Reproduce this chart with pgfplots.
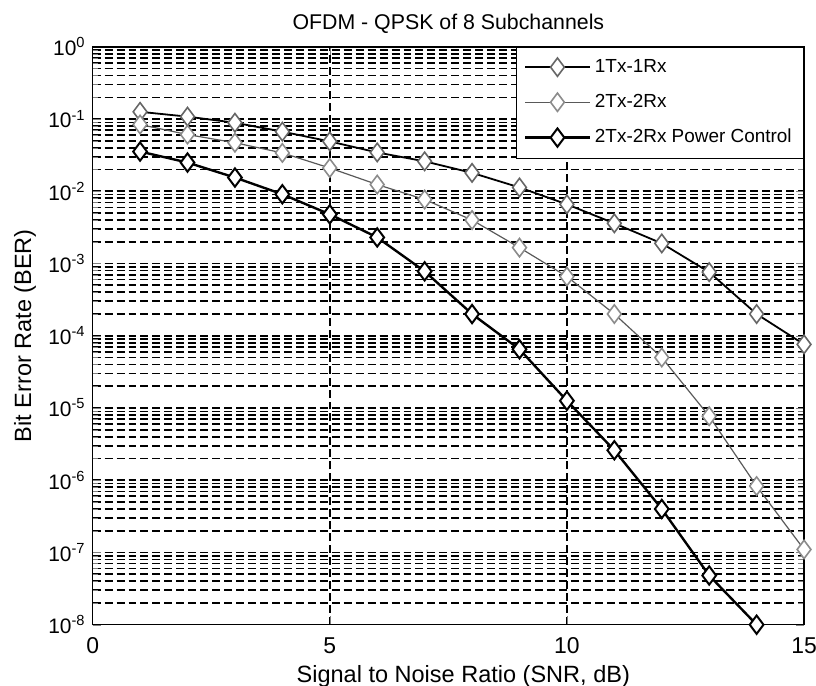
\documentclass[border=0pt]{standalone}
\usepackage{fontspec}
\setmainfont{Liberation Sans}
\usepackage{pgfplots}
\pgfplotsset{compat=1.18}

\begin{document}
\begin{tikzpicture}
\begin{semilogyaxis}[
  width=357pt, height=290pt, scale only axis,
  xmin=0, xmax=15, ymin=1e-8, ymax=1,
  xtick={0,5,10,15}, xticklabels={0,5,10,15},
  ytick={1e-8,1e-7,1e-6,1e-5,1e-4,1e-3,1e-2,1e-1,1},
  yticklabels={10\textsuperscript{-8},10\textsuperscript{-7},10\textsuperscript{-6},10\textsuperscript{-5},10\textsuperscript{-4},10\textsuperscript{-3},10\textsuperscript{-2},10\textsuperscript{-1},10\textsuperscript{0}},
  tick label style={font=\fontsize{10.5}{12}\selectfont},
  xticklabel style={yshift=-3pt, font=\fontsize{11.5}{13}\selectfont},
  tick align=inside,
  grid=both,
  major grid style={black, line width=0.8pt, dash pattern=on 4pt off 2pt},
  minor grid style={black, line width=0.8pt, dash pattern=on 4pt off 2pt},
  axis line style={line width=0.8pt},
  title={OFDM - QPSK of 8 Subchannels},
  title style={font=\fontsize{10.7}{12}\selectfont, at={(axis description cs:0.5,1.019)}, anchor=center},
  xlabel={Signal to Noise Ratio (SNR, dB)},
  ylabel={Bit Error Rate (BER)},
  label style={font=\fontsize{11.8}{13}\selectfont},
  xlabel style={at={(axis description cs:0.521,-0.09)}, anchor=center},
  ylabel style={at={(axis description cs:-0.095,0.5)}, anchor=center},
  legend style={at={(1,1)}, anchor=north east, draw=black, fill=white,
    font=\fontsize{9.5}{11}\selectfont, row sep=5.5pt, inner sep=4pt},
  legend cell align=left,
  legend image code/.code={\draw[mark repeat=2,mark phase=2,#1] plot coordinates {(0cm,0cm) (0.57cm,0cm) (1.14cm,0cm)};},
]
\addplot[black, line width=0.9pt, mark=diamond*, mark size=4.6pt,
  mark options={fill=white, draw=black!60, line width=0.8pt}] coordinates {
  (1,0.126) (2,0.108) (3,0.089) (4,0.067) (5,0.049) (6,0.0345) (7,0.026)
  (8,0.018) (9,0.0113) (10,0.0066) (11,0.0036) (12,0.0019) (13,7.6e-4)
  (14,2.0e-4) (15,7.6e-5)};
\addlegendentry{1Tx-1Rx}
\addplot[black!65, line width=0.6pt, mark=diamond*, mark size=4.6pt,
  mark options={fill=white, draw=black!45, line width=0.8pt}] coordinates {
  (1,0.084) (2,0.061) (3,0.047) (4,0.034) (5,0.021) (6,0.0124) (7,0.0077)
  (8,0.0040) (9,0.00166) (10,6.6e-4) (11,2.0e-4) (12,5.0e-5) (13,7.7e-6)
  (14,8.3e-7) (15,1.1e-7)};
\addlegendentry{2Tx-2Rx}
\addplot[black, line width=1.2pt, mark=diamond*, mark size=4.6pt,
  mark options={fill=white, draw=black, line width=1pt}] coordinates {
  (1,0.0355) (2,0.025) (3,0.0155) (4,0.0091) (5,0.0048) (6,0.0023) (7,7.8e-4)
  (8,2.0e-4) (9,6.5e-5) (10,1.26e-5) (11,2.6e-6) (12,4.0e-7) (13,4.8e-8)
  (14,1.0e-8)};
\addlegendentry{2Tx-2Rx Power Control}
\end{semilogyaxis}
\pgfresetboundingbox
\path[use as bounding box] ([shift={(-46.5pt,-30.5pt)}]current axis.south west) rectangle ([shift={(6pt,23.5pt)}]current axis.north east);
\end{tikzpicture}
\end{document}
